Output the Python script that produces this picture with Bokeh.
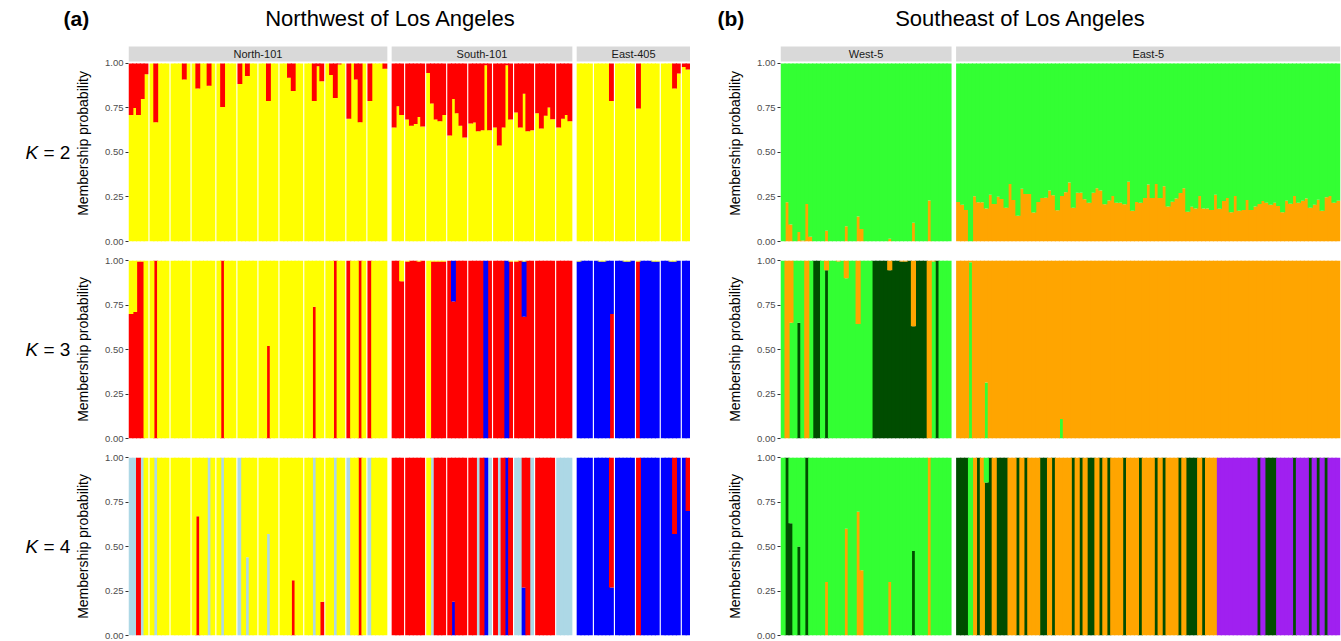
from bokeh.plotting import figure
from bokeh.models import Range1d, FixedTicker, NumeralTickFormatter, ColumnDataSource
from bokeh.layouts import row, column
from bokeh.embed import file_html
from bokeh.resources import INLINE
from bokeh.core.properties import value

FONT = "Liberation Sans"

# ------------------------------------------------------------------ data
NW_FACETS = ["North-101", "South-101", "East-405"]
NW_SITES = [[5, 5, 5, 6, 5, 5, 5, 6, 5, 5, 5, 5],
            [3, 5, 5, 5, 6, 5, 5, 5, 4],
            [4, 5, 5, 6, 5, 2]]
SE_FACETS = ["West-5", "East-5"]
SE_SITES = [[43], [97]]
K_VALUES = [2, 3, 4]

# K = 2, northwest : yellow share (red = remainder)
NW_K2_YELLOW = [
    # North-101
    0.71, 0.75, 0.71, 0.80, 0.94, 1, 0.67, 1, 1, 1, 1, 1, 1, 0.91, 1,
    1, 0.86, 1, 1, 0.875, 1, 1, 0.756, 1, 1, 1, 0.885, 1, 0.93, 1, 1,
    1, 1, 0.79, 1, 1, 1, 1, 0.92, 0.846, 1, 1, 1, 1, 0.79, 0.985, 0.90,
    1, 0.936, 0.806, 0.995, 1, 0.69, 1, 0.91, 0.67, 1, 0.79, 1, 1, 1, 0.97,
    # South-101
    0.64, 0.76, 0.71, 0.685, 0.65, 0.66, 0.70, 0.646,
    0.946, 0.775, 0.685, 0.676, 0.71, 0.596, 0.80, 0.72, 0.65, 0.584,
    0.663, 0.668, 0.62, 0.625, 0.99, 0.625, 0.64, 0.54, 0.64, 0.99, 0.685,
    0.725, 0.64, 0.83, 0.62, 0.625, 0.72, 0.635, 0.706, 0.753, 0.687,
    0.64, 0.69, 0.71, 0.676,
    # East-405
    1, 1, 1, 1, 1, 1, 1, 1, 0.79, 1, 1, 1, 1, 1,
    0.747, 1, 1, 1, 1, 1, 1, 1, 1, 0.86, 0.944, 0.98, 0.966]

# K = 3, northwest : red and blue shares (yellow = remainder)
NW_K3_RED = [
    0.70, 0.71, 0.995, 0.995, 0, 0, 1, 0, 0, 0, 0, 0, 0, 0, 0,
    0, 0, 0, 0, 0, 0, 0, 1, 0, 0, 0, 0, 0, 0, 0, 0,
    0, 0, 0.52, 0, 0, 0, 0, 0, 0, 0, 0, 0, 0, 0.74, 0, 0,
    0, 0, 1, 0, 0, 1, 0, 0, 1, 0, 1, 0, 0, 0, 0,
    1, 1, 0.883, 0.994, 1, 1, 0.994, 1,
    0, 0.994, 0.994, 0.994, 0.994, 1, 0.77, 1, 1, 1,
    1, 1, 1, 1, 0, 1, 1, 1, 1, 0, 0.994,
    0.994, 1, 0.684, 1, 1, 1, 1, 1, 1, 1,
    1, 1, 1, 1,
    0, 0, 0, 0, 0, 0, 0, 0, 0.70, 0, 0, 0, 0, 0,
    0.994, 0, 0, 0, 0, 0, 0, 0, 0, 0, 0, 0, 0]
NW_K3_BLUE = [
    0] * 62 + [
    0, 0, 0, 0, 0, 0, 0, 0,
    0, 0, 0, 0, 0, 0, 0.23, 0, 0, 0,
    0, 0, 0, 0, 1, 0, 0, 0, 0, 1, 0,
    0, 0, 0.31, 0, 0, 0, 0, 0, 0, 0,
    0, 0, 0, 0,
    0.994, 1, 1, 1, 1, 0.994, 0.994, 1, 0.30, 1, 1, 0.994, 0.994, 1,
    0, 1, 1, 1, 0.994, 0.994, 1, 1, 0.994, 0.994, 1, 1, 1]

# K = 4, northwest : light blue, blue, red shares (yellow = remainder)
NW_K4_LBLUE = [
    1, 1, 0, 1, 0, 0, 1, 0, 0, 0, 0, 0, 0, 0, 0,
    0, 0, 0, 0, 1, 0, 0, 1, 0, 0, 0, 1, 0, 0.44, 0, 0,
    0, 0, 0.57, 0, 0, 0, 0, 0, 0, 0, 0, 0, 0, 1, 0, 0,
    0, 0, 1, 0, 0, 1, 0, 0, 0, 0, 1, 0, 0, 0, 0,
    0, 0, 0, 0, 0, 0, 0, 0,
    0, 1, 0, 0, 0, 0, 0, 0, 0, 0,
    0, 0, 1, 0, 0, 1, 0, 1, 0, 0, 0,
    1, 1, 0, 0, 1, 0, 0, 0, 0, 0,
    1, 1, 1, 1] + [0] * 27
NW_K4_BLUE = [0] * 62 + [
    0, 0, 0, 0, 0, 0, 0, 0,
    0, 0, 0, 0, 0, 0, 0.19, 0, 0, 0,
    0, 0, 0, 0, 1, 0, 0, 0, 0, 1, 0,
    0, 0, 0.27, 0, 0, 0, 0, 0, 0, 0,
    0, 0, 0, 0,
    1, 1, 1, 1, 1, 1, 1, 1, 0.27, 1, 1, 1, 1, 1,
    0, 1, 1, 1, 1, 1, 1, 1, 1, 0.57, 1, 1, 0.70]
NW_K4_RED = [
    0, 0, 1, 0, 0, 0, 0, 0, 0, 0, 0, 0, 0, 0, 0,
    0, 0.67, 0, 0, 0, 0, 0, 0, 0, 0, 0, 0, 0, 0, 0, 0,
    0, 0, 0, 0, 0, 0, 0, 0, 0.31, 0, 0, 0, 0, 0, 0, 0.19,
    0, 0, 0, 0, 0, 0, 0, 0, 1, 0, 0, 0, 0, 0, 0,
    1, 1, 1, 1, 1, 1, 1, 1,
    0, 0, 1, 1, 1, 1, 0.81, 1, 1, 1,
    1, 1, 0, 1, 0, 0, 1, 0, 1, 0, 1,
    0, 0, 0.73, 1, 0, 1, 1, 1, 1, 1,
    0, 0, 0, 0,
    0, 0, 0, 0, 0, 0, 0, 0, 0.73, 0, 0, 0, 0, 0,
    1, 0, 0, 0, 0, 0, 0, 0, 0, 0.43, 0, 0, 0.30]

# K = 2, southeast : orange share (green = remainder)
SE_K2_ORANGE = [
    # West-5
    0, 0.22, 0.096, 0, 0.053, 0.006, 0.21, 0.026, 0, 0,
    0, 0.06, 0, 0, 0, 0, 0.086, 0, 0, 0.14,
    0.07, 0, 0, 0, 0, 0, 0, 0.015, 0, 0,
    0, 0, 0, 0.105, 0, 0, 0, 0.23, 0, 0,
    0, 0, 0,
    # East-5
    0.222, 0.207, 0.177, 0.0, 0.254, 0.22, 0.22, 0.186, 0.263, 0.21,
    0.252, 0.239, 0.19, 0.323, 0.233, 0.145, 0.297, 0.267, 0.267, 0.163,
    0.222, 0.244, 0.246, 0.286, 0.26, 0.175, 0.256, 0.276, 0.331, 0.19,
    0.274, 0.274, 0.237, 0.218, 0.274, 0.299, 0.286, 0.209, 0.231, 0.256,
    0.218, 0.218, 0.209, 0.335, 0.173, 0.222, 0.218, 0.244, 0.32, 0.244,
    0.323, 0.244, 0.31, 0.197, 0.224, 0.241, 0.273, 0.299, 0.167, 0.195,
    0.186, 0.256, 0.186, 0.186, 0.177, 0.263, 0.184, 0.227, 0.244, 0.165,
    0.256, 0.173, 0.177, 0.233, 0.177, 0.197, 0.21, 0.227, 0.218, 0.207,
    0.218, 0.199, 0.165, 0.229, 0.212, 0.256, 0.218, 0.229, 0.241, 0.19,
    0.207, 0.235, 0.173, 0.248, 0.256, 0.218, 0.229]

# K = 3, southeast : dark green and green shares (orange = remainder)
SE_K3_DGREEN = [
    0, 0, 0, 0, 0.65, 0, 0, 0, 1, 1,
    0, 0.945, 0, 0, 0, 0, 0, 0, 0, 0,
    0, 0, 0, 1, 1, 1, 1, 0.945, 1, 1,
    0.994, 0.994, 1, 0.63, 1, 1, 1, 0, 0, 1,
    0, 0, 0] + [0] * 97
SE_K3_GREEN = [
    1, 0, 0.65, 1, 0.35, 1, 0, 1, 0, 0,
    1, 0, 1, 1, 0.994, 1, 0.90, 1, 1, 0.643,
    1, 1, 1, 0, 0, 0, 0, 0, 0, 0,
    0, 0, 0, 0, 0, 0, 0, 0, 0.994, 0,
    1, 1, 1,
    0, 0, 0, 0.99, 0, 0, 0, 0.315, 0, 0,
    0, 0, 0, 0, 0, 0, 0, 0, 0, 0,
    0, 0, 0, 0, 0, 0, 0.11] + [0] * 70

# K = 4, southeast : dark green, orange, purple shares (green = remainder)
SE_K4_DGREEN = [
    0, 1, 0.63, 0, 0.5, 0, 1, 0, 0, 0,
    0, 0, 0, 0, 0, 0, 0, 0, 0, 0,
    0, 0, 0, 0, 0, 0, 0, 0, 0, 0,
    0, 0, 0, 0.475, 0, 0, 0, 0, 0, 0,
    0, 0, 0,
    1, 1, 1, 0, 0, 1, 0, 0.86, 1, 0,
    1, 1, 1, 0, 0, 1, 0, 1, 0, 0,
    0, 1, 1, 0, 1, 0, 0, 0, 0, 1,
    0, 1, 0, 1, 1, 0, 1, 0, 1, 0,
    0, 0, 1, 0, 0, 0, 1, 0, 0, 0,
    1, 0, 1, 0, 0, 0, 1, 0, 1, 1,
    1, 0, 1, 0, 0, 0, 0, 0, 0, 0,
    0, 0, 0, 0, 0, 0, 1, 0, 1, 1,
    1, 0, 0, 0, 0, 1, 0, 0, 0, 1,
    0, 1, 0, 1, 0, 0, 0]
SE_K4_ORANGE = [
    0, 0, 0, 0, 0, 0, 0, 0, 0, 0,
    0, 0.30, 0, 0, 0, 0, 0.60, 0, 0, 0.695,
    0.366, 0, 0, 0, 0, 0, 0, 0.30, 0, 0,
    0, 0, 0, 0, 0, 0, 0, 1, 0, 0,
    0, 0, 0,
    0, 0, 0, 0, 1, 0, 1, 0, 0, 1,
    0, 0, 0, 1, 1, 0, 1, 0, 1, 1,
    1, 0, 0, 1, 0, 1, 1, 1, 1, 0,
    1, 0, 1, 0, 0, 1, 0, 1, 0, 1,
    1, 1, 0, 1, 1, 1, 0, 1, 1, 1,
    0, 1, 0, 1, 1, 1, 0, 1, 0, 0,
    0, 1, 0, 1, 1, 1, 0, 0, 0, 0,
    0, 0, 0, 0, 0, 0, 0, 0, 0, 0,
    0, 0, 0, 0, 0, 0, 0, 0, 0, 0,
    0, 0, 0, 0, 0, 0, 0]
SE_K4_PURPLE = [0] * 43 + [0] * 66 + [
    1, 1, 1, 1, 1, 1, 1, 1, 1, 1,
    0, 1, 0, 0, 0, 1, 1, 1, 1, 0,
    1, 1, 1, 0, 1, 0, 1, 0, 1, 1, 1]

YELLOW, RED, BLUE, LBLUE = "#FFFF00", "#FF0000", "#0000FF", "#ADD8E6"
GREEN, ORANGE, DGREEN, PURPLE = "#33FF33", "#FFA500", "#004D00", "#A020F0"

BAR_W = 1.3             # overlap so neighbouring bars show no seams
SITE_GAP = 0.3 + (BAR_W - 1)
FACET_GAP = 1.15 + (BAR_W - 1)
PAD = (BAR_W - 1) / 2
STRIP_LO, STRIP_HI = 1.0112, 1.0955
Y_TOP_STRIP = 1.1011


def remainder(*cols):
    return [max(0.0, 1 - sum(v)) for v in zip(*cols)]


def layout_x(sites):
    xs, ext, cur = [], [], PAD
    for fi, ss in enumerate(sites):
        if fi:
            cur += FACET_GAP
        start = cur
        for si, n in enumerate(ss):
            if si:
                cur += SITE_GAP
            for _ in range(n):
                xs.append(cur + 0.5)
                cur += 1
        ext.append((start - PAD, cur + PAD))
    return xs, ext, cur + PAD


def panel(facets, sites, cols, colors, strip, frame_w, frame_h, bl, br, bt, bb):
    xs, ext, total = layout_x(sites)
    ymax = Y_TOP_STRIP if strip else 1.0
    p = figure(frame_width=frame_w, frame_height=frame_h,
               x_range=Range1d(0, total), y_range=Range1d(0, ymax),
               output_backend="svg", toolbar_location=None,
               min_border_left=bl, min_border_right=br,
               min_border_top=bt, min_border_bottom=bb,
               background_fill_color="white", border_fill_color="white")
    data = {"x": xs}
    names = []
    for i, c in enumerate(cols):
        assert len(c) == len(xs), (len(c), len(xs))
        data["c%d" % i] = c
        names.append("c%d" % i)
    src = ColumnDataSource(data)
    p.vbar_stack(names, x="x", width=BAR_W, color=colors, line_color=None, source=src)
    if strip:
        p.quad(left=[e[0] for e in ext], right=[e[1] for e in ext],
               bottom=STRIP_LO, top=STRIP_HI, color="#D9D9D9", line_color=None)
        p.text(x=[(e[0] + e[1]) / 2 for e in ext], y=[(STRIP_LO + STRIP_HI) / 2] * len(ext),
               text=facets, text_font=value(FONT), text_font_size="11px",
               text_color="#1A1A1A", text_align="center", text_baseline="middle")
    p.xaxis.visible = False
    p.grid.visible = False
    p.outline_line_color = None
    ax = p.yaxis[0]
    ax.ticker = FixedTicker(ticks=[0, 0.25, 0.5, 0.75, 1.0])
    ax.formatter = NumeralTickFormatter(format="0.00")
    ax.axis_label = "Membership probability"
    ax.axis_label_text_font = FONT
    ax.axis_label_text_font_style = "normal"
    ax.axis_label_text_font_size = "14px"
    ax.axis_label_text_color = "black"
    ax.axis_label_standoff = 11
    ax.major_label_text_font = FONT
    ax.major_label_text_font_size = "9.5px"
    ax.major_label_text_color = "#4D4D4D"
    ax.major_label_standoff = 2
    ax.axis_line_color = None
    ax.major_tick_line_color = "#333333"
    ax.major_tick_out = 3
    ax.major_tick_in = 0
    ax.minor_tick_line_color = None
    return p


KL_W = 72


def klabel(k, frame_h, strip, bt, bb):
    ymax = Y_TOP_STRIP if strip else 1.0
    p = figure(frame_width=KL_W, frame_height=frame_h, x_range=Range1d(0, KL_W),
               y_range=Range1d(0, ymax), output_backend="svg", toolbar_location=None,
               min_border_left=0, min_border_right=0, min_border_top=bt, min_border_bottom=bb)
    p.axis.visible = False
    p.grid.visible = False
    p.outline_line_color = None
    p.text(x=[25], y=[0.5], text=["K"], text_font=value(FONT), text_font_style="italic",
           text_font_size="19px", text_baseline="middle", text_align="left", text_color="black")
    p.text(x=[43], y=[0.5], text=["= %d" % k], text_font=value(FONT),
           text_font_size="19px", text_baseline="middle", text_align="left", text_color="black")
    return p


title = figure(frame_width=1341, frame_height=45, x_range=Range1d(0, 1341), y_range=Range1d(45, 0),
               output_backend="svg", toolbar_location=None, min_border=0)
title.axis.visible = False
title.grid.visible = False
title.outline_line_color = None
title.text(x=[63, 717], y=[18, 18], text=["(a)", "(b)"], text_font=value(FONT),
           text_font_style="bold", text_font_size="21px", text_baseline="middle", text_align="left")
title.text(x=[390, 1020], y=[18, 18], text=["Northwest of Los Angeles", "Southeast of Los Angeles"],
           text_font=value(FONT), text_font_size="22px", text_baseline="middle", text_align="center")

rows = [title]
specs = [(True, 196, 0, 13), (False, 178, 6, 13), (False, 178, 6, 6)]
nw_cols = {
    2: ([NW_K2_YELLOW, [1 - v for v in NW_K2_YELLOW]], [YELLOW, RED]),
    3: ([NW_K3_RED, NW_K3_BLUE, remainder(NW_K3_RED, NW_K3_BLUE)], [RED, BLUE, YELLOW]),
    4: ([NW_K4_LBLUE, NW_K4_BLUE, NW_K4_RED, remainder(NW_K4_LBLUE, NW_K4_BLUE, NW_K4_RED)],
        [LBLUE, BLUE, RED, YELLOW]),
}
se_cols = {
    2: ([SE_K2_ORANGE, [1 - v for v in SE_K2_ORANGE]], [ORANGE, GREEN]),
    3: ([SE_K3_DGREEN, SE_K3_GREEN, remainder(SE_K3_DGREEN, SE_K3_GREEN)], [DGREEN, GREEN, ORANGE]),
    4: ([SE_K4_DGREEN, SE_K4_ORANGE, SE_K4_PURPLE, remainder(SE_K4_DGREEN, SE_K4_ORANGE, SE_K4_PURPLE)],
        [DGREEN, ORANGE, PURPLE, GREEN]),
}
for k, (strip, fh, bt, bb) in zip(K_VALUES, specs):
    kl = klabel(k, fh, strip, bt, bb)
    left = panel(NW_FACETS, NW_SITES, nw_cols[k][0], nw_cols[k][1], strip, 562, fh,
                 127 - KL_W, 0, bt, bb)
    right = panel(SE_FACETS, SE_SITES, se_cols[k][0], se_cols[k][1], strip, 560, fh, 90, 2, bt, bb)
    rows.append(row(kl, left, right, spacing=0))

page = column(*rows, spacing=0)
open("out.html", "w").write(file_html(page, INLINE))
